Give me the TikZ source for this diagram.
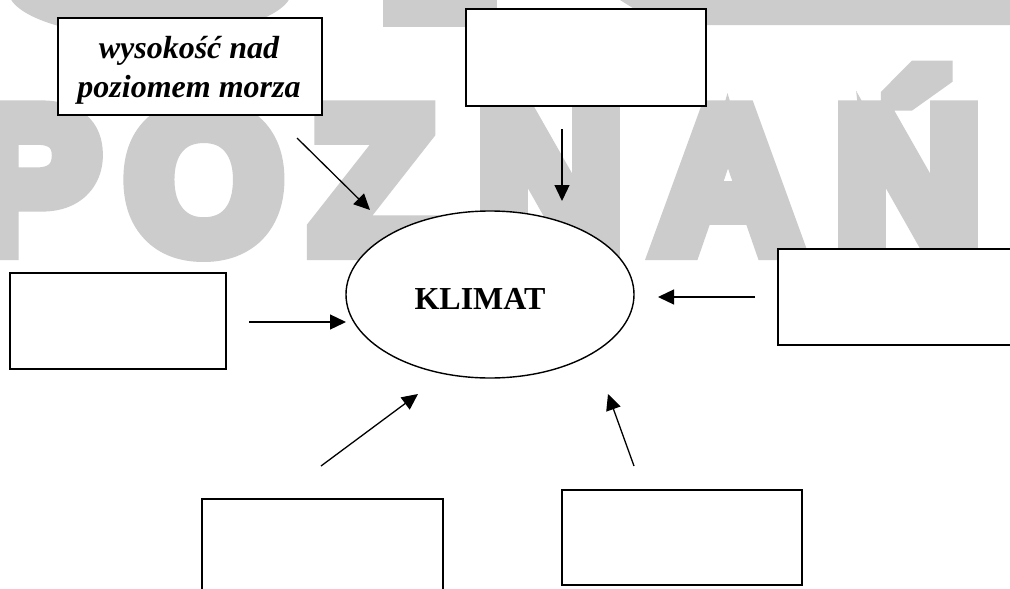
\documentclass[tikz,border=0pt]{standalone}
\usepackage{fontspec}
\setmainfont{Liberation Serif}
\newfontfamily\wmfont[FakeBold=11]{Liberation Sans Bold}
\usetikzlibrary{arrows.meta,shapes.geometric}
\definecolor{wmgray}{HTML}{CCCCCC}
\tikzset{
  box/.style={draw, line width=2pt, fill=white, inner sep=0pt},
  conn/.style={line width=1.3pt, -{Triangle[length=16pt,width=15pt]}},
  wm/.style={text=wmgray, font=\wmfont\fontsize{200}{200}\selectfont, inner sep=0pt, anchor=base},
  lbl/.style={font=\bfseries\itshape\fontsize{32}{38.5}\selectfont, align=center},
}
\begin{document}
\begin{tikzpicture}[x=1pt,y=-1pt]
\useasboundingbox (0,0) rectangle (1010,589);
\clip (0,0) rectangle (1010,589);
\fill[white] (0,0) rectangle (1010,589);
% watermark: remains of an upper row
\fill[wmgray] (150,-10) ellipse [x radius=142, y radius=47];
\fill[wmgray] (383,0) rectangle (497,27);
\fill[wmgray] (620,0) -- (1015,0) -- (1015,25) -- (660,25) -- cycle;
% watermark word
\node[wm] (wP) at (32,249) {P};
\node[wm] (wO) at (204,249) {O};
\node[wm] (wZ) at (373,249) {Z};
\node[wm] (wN) at (550,249) {N};
\node[wm] (wA) at (728,249) {A};
\node[wm] (wNn) at (908,249) {Ń};
% boxes
\node[box, minimum width=264pt, minimum height=97pt] (wys) at (190,66.5) {};
\node[lbl, inner sep=0pt, anchor=base] (wystxt) at (189,97) {wysokość nad\\poziomem morza};
\node[box, minimum width=240pt, minimum height=97pt] (top) at (586,57.5) {};
\node[box, minimum width=216pt, minimum height=96pt] (left) at (118,321) {};
\node[box, minimum width=262pt, minimum height=96pt] (right) at (909,297) {};
\node[box, minimum width=241pt, minimum height=121pt] (botl) at (322.5,559.5) {};
\node[box, minimum width=240pt, minimum height=95pt] (botr) at (682,537.5) {};
% ellipse
\node[ellipse, draw, line width=1.4pt, fill=white, minimum width=288pt, minimum height=167pt, inner sep=0pt] (klimat) at (490,294.5) {};
\node[font=\bfseries\fontsize{32}{38}\selectfont, anchor=base, inner sep=0pt] (klimattxt) at (480,309) {KLIMAT};
% arrow ends
\coordinate (a1s) at (297,138); \coordinate (a1e) at (370,210);
\coordinate (a2s) at (562,129); \coordinate (a2e) at (562,201);
\coordinate (a3s) at (755,297); \coordinate (a3e) at (658,297);
\coordinate (a4s) at (249,322); \coordinate (a4e) at (346,322);
\coordinate (a5s) at (321,466); \coordinate (a5e) at (418,394);
\coordinate (a6s) at (634,466); \coordinate (a6e) at (608,394);
\draw[conn] (a1s) -- (a1e);
\draw[conn] (a2s) -- (a2e);
\draw[conn] (a3s) -- (a3e);
\draw[conn] (a4s) -- (a4e);
\draw[conn] (a5s) -- (a5e);
\draw[conn] (a6s) -- (a6e);
\end{tikzpicture}
\end{document}
